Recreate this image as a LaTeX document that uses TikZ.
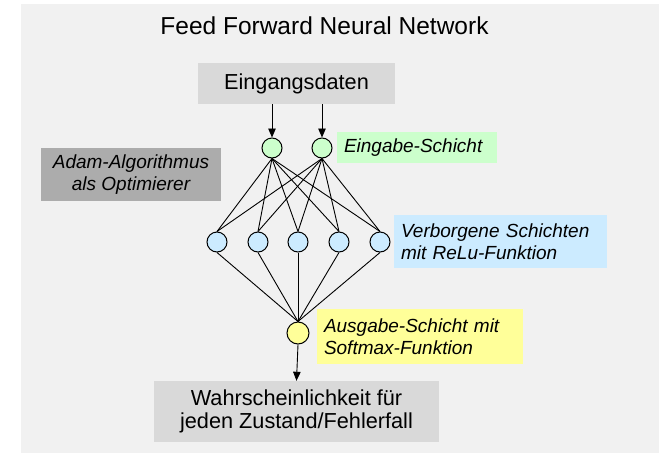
\documentclass[tikz,border=0pt]{standalone}
\usepackage{fontspec}
\setmainfont{Liberation Sans}
\usepackage{tikz}
\usetikzlibrary{arrows.meta}
\definecolor{panel}{RGB}{241,241,241}
\definecolor{boxgray}{RGB}{217,217,217}
\definecolor{darkgray}{RGB}{172,172,172}
\definecolor{ingreen}{RGB}{204,255,204}
\definecolor{hidblue}{RGB}{204,235,255}
\definecolor{outyellow}{RGB}{255,255,153}
\tikzset{
  databox/.style ={rectangle, fill=boxgray, inner sep=0pt, align=center,
                   font=\fontsize{21.7}{23.5}\selectfont},
  notebox/.style ={rectangle, inner sep=0pt, inner xsep=7pt, align=left,
                   font=\fontsize{19}{21.5}\selectfont\itshape},
  neuron/.style  ={circle, draw=black, line width=1pt, minimum size=20pt, inner sep=0pt},
  inneuron/.style ={neuron, fill=ingreen},
  hidneuron/.style={neuron, fill=hidblue},
  outneuron/.style={neuron, fill=outyellow},
  link/.style    ={line width=0.9pt, color=black},
  arr/.style     ={-{Triangle[length=9pt,width=7.5pt]}, line width=0.9pt, color=black},
}

\begin{document}
\begin{tikzpicture}[x=1pt, y=-1pt]
\useasboundingbox (0,0) rectangle (659,453);
\fill[panel] (21,4) rectangle (659,453);

\node[font=\fontsize{24.5}{28}\selectfont] (title) at (324.5,25.5) {Feed Forward Neural Network};

\node[databox, minimum width=197pt, minimum height=41pt] (indata) at (296.5,83.5) {Eingangsdaten};
\node[databox, fill=darkgray, font=\fontsize{19}{21.5}\selectfont\itshape,
  minimum width=180pt, minimum height=53pt] (adam) at (131,174.5) {Adam-Algorithmus\\als Optimierer};

\node[inneuron] (in1) at (272,148) {};
\node[inneuron] (in2) at (322,148) {};
\node[notebox, fill=ingreen, minimum width=160pt, minimum height=31pt, text width=146pt] (inlabel) at (417,147.5)
  {Eingabe-Schicht};

\node[hidneuron] (hid1) at (217,242) {};
\node[hidneuron] (hid2) at (258,242) {};
\node[hidneuron] (hid3) at (298,242) {};
\node[hidneuron] (hid4) at (339,242) {};
\node[hidneuron] (hid5) at (380,242) {};
\node[notebox, fill=hidblue, minimum width=213pt, minimum height=53pt, text width=199pt] (hidlabel) at (500.5,241.5)
  {Verborgene Schichten\\mit ReLu-Funktion};

\node[outneuron, minimum height=22pt] (out) at (298,333) {};
\node[notebox, fill=outyellow, minimum width=206pt, minimum height=55pt, text width=192pt, inner xsep=6pt] (outlabel) at (420,336.5)
  {Ausgabe-Schicht mit\\Softmax-Funktion};

\node[databox, minimum width=285pt, minimum height=61pt] (result) at (296.5,411.5)
  {Wahrscheinlichkeit für\\jeden Zustand/Fehlerfall};

\draw[arr] (indata.south -| in1) -- (in1.north);
\draw[arr] (indata.south -| in2) -- (in2.north);

\draw[link] (in1.south) -- (hid1.north);
\draw[link] (in1.south) -- (hid2.north);
\draw[link] (in1.south) -- (hid3.north);
\draw[link] (in1.south) -- (hid4.north);
\draw[link] (in1.south) -- (hid5.north);
\draw[link] (in2.south) -- (hid1.north);
\draw[link] (in2.south) -- (hid2.north);
\draw[link] (in2.south) -- (hid3.north);
\draw[link] (in2.south) -- (hid4.north);
\draw[link] (in2.south) -- (hid5.north);

\draw[link] (hid1.south) -- (out.north);
\draw[link] (hid2.south) -- (out.north);
\draw[link] (hid3.south) -- (out.north);
\draw[link] (hid4.south) -- (out.north);
\draw[link] (hid5.south) -- (out.north);

\draw[arr] (out.south) -- (result.north);
\end{tikzpicture}
\end{document}
